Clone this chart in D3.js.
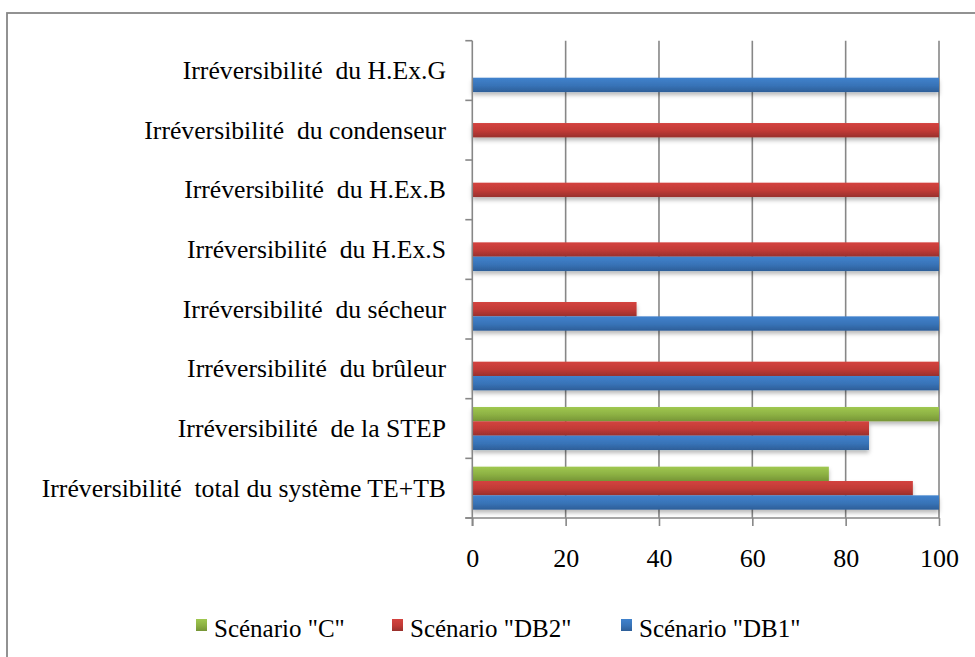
<!DOCTYPE html>
<html>
<head>
<meta charset="utf-8">
<script src="https://cdn.jsdelivr.net/npm/d3@7"></script>
<style>
  html, body { margin: 0; padding: 0; background: #fff; }
  svg { display: block; }
  text { font-family: "Liberation Serif", "DejaVu Serif", serif; fill: #000; }
</style>
</head>
<body>
<svg id="chart" width="975" height="657"></svg>
<script>
// ---- data (categories listed top to bottom) ----
const categories = [
  "Irréversibilité  du H.Ex.G",
  "Irréversibilité  du condenseur",
  "Irréversibilité  du H.Ex.B",
  "Irréversibilité  du H.Ex.S",
  "Irréversibilité  du sécheur",
  "Irréversibilité  du brûleur",
  "Irréversibilité  de la STEP",
  "Irréversibilité  total du système TE+TB"
];
const seriesNames = ['Scénario "C"', 'Scénario "DB2"', 'Scénario "DB1"'];
const valuesC   = [null, null, null, null, null, null, 100, 76.4];
const valuesDB2 = [null, 100, 100, 100, 35.2, 100, 85, 94.4];
const valuesDB1 = [100, null, null, 100, 100, 100, 85, 100];
const xTicks = [0, 20, 40, 60, 80, 100];

(function () {
const FONT = '"Liberation Serif", "DejaVu Serif", serif';
const seriesValues = [valuesC, valuesDB2, valuesDB1];
const seriesColors = [
  ["#a0c850", "#8cb043", "#769536"],
  ["#d4433f", "#c03a36", "#98302c"],
  ["#4082cd", "#3873b7", "#2d5e98"]
];

const svg = d3.select("#chart");
const defs = svg.append("defs");
seriesColors.forEach((c, i) => {
  const g = defs.append("linearGradient").attr("id", "grad" + i)
    .attr("x1", 0).attr("y1", 0).attr("x2", 0).attr("y2", 1);
  g.append("stop").attr("offset", "0%").attr("stop-color", c[0]);
  g.append("stop").attr("offset", "55%").attr("stop-color", c[1]);
  g.append("stop").attr("offset", "100%").attr("stop-color", c[2]);
});
const f = defs.append("filter").attr("id", "shadow")
  .attr("x", "-5%").attr("y", "-20%").attr("width", "110%").attr("height", "180%");
f.append("feDropShadow").attr("dx", 0).attr("dy", 3).attr("stdDeviation", 2)
  .attr("flood-color", "#000").attr("flood-opacity", 0.28);

// outer border
svg.append("rect").attr("x", 7).attr("y", 13).attr("width", 1000).attr("height", 700)
  .attr("fill", "none").attr("stroke", "#878787").attr("stroke-width", 1.8);

const pLeft = 472.3, pRight = 939, pTop = 40.7, pBottom = 518;
const x = d3.scaleLinear().domain([0, 100]).range([pLeft, pRight]);
const y0 = d3.scaleBand().domain(categories).range([pTop, pBottom]).padding(0);
const y1 = d3.scaleBand().domain(seriesNames).range([0, y0.bandwidth()])
  .paddingInner(0).paddingOuter(0.58);

const gridColor = "#878787";

// vertical gridlines
svg.append("g").selectAll("line").data(xTicks.slice(1)).join("line")
  .attr("x1", d => x(d)).attr("x2", d => x(d))
  .attr("y1", pTop).attr("y2", pBottom)
  .attr("stroke", gridColor).attr("stroke-width", 1.6);

// bars
const rows = [];
categories.forEach((c, ci) => {
  seriesNames.forEach((s, si) => {
    const v = seriesValues[si][ci];
    if (v != null) rows.push({ c, s, si, v });
  });
});
svg.append("g").attr("filter", "url(#shadow)")
  .selectAll("rect").data(rows).join("rect")
  .attr("x", x(0))
  .attr("y", d => y0(d.c) + y1(d.s))
  .attr("width", d => x(d.v) - x(0))
  .attr("height", y1.bandwidth())
  .attr("fill", d => "url(#grad" + d.si + ")");

// bottom axis
const xAxis = d3.axisBottom(x).tickValues(xTicks).tickSize(8).tickPadding(23);
const gx = svg.append("g").attr("transform", `translate(0,${pBottom})`).call(xAxis)
  .attr("font-family", null);
gx.select(".domain").attr("d", `M${pLeft - 7},0H${pRight}`).attr("stroke", gridColor).attr("stroke-width", 1.6);
gx.selectAll(".tick line").attr("stroke", gridColor).attr("stroke-width", 1.6);
gx.selectAll(".tick text").style("font-family", FONT).attr("font-size", 26).attr("fill", "#000");

// left axis (category boundaries ticks)
const bounds = d3.range(categories.length + 1).map(i => pTop + i * y0.step());
svg.append("line").attr("x1", pLeft).attr("x2", pLeft).attr("y1", pTop).attr("y2", pBottom + 8)
  .attr("stroke", gridColor).attr("stroke-width", 1.6);
svg.append("g").selectAll("line").data(bounds).join("line")
  .attr("x1", pLeft - 7).attr("x2", pLeft).attr("y1", d => d).attr("y2", d => d)
  .attr("stroke", gridColor).attr("stroke-width", 1.6);

// category labels
svg.append("g").selectAll("text").data(categories).join("text")
  .attr("x", 446)
  .attr("y", d => y0(d) + y0.bandwidth() / 2 + 8.5)
  .attr("text-anchor", "end")
  .style("font-family", FONT)
  .attr("font-size", 25.7)
  .style("white-space", "pre")
  .text(d => d);

// legend
const legendX = [196, 392, 621];
const lg = svg.append("g").selectAll("g").data(seriesNames).join("g")
  .attr("transform", (d, i) => `translate(${legendX[i]},619)`);
lg.append("rect").attr("width", 11).attr("height", 12)
  .attr("fill", (d, i) => "url(#grad" + i + ")");
lg.append("text").attr("x", 18).attr("y", 18).style("font-family", FONT)
  .attr("font-size", 25).text(d => d);
})();
</script>
</body>
</html>
